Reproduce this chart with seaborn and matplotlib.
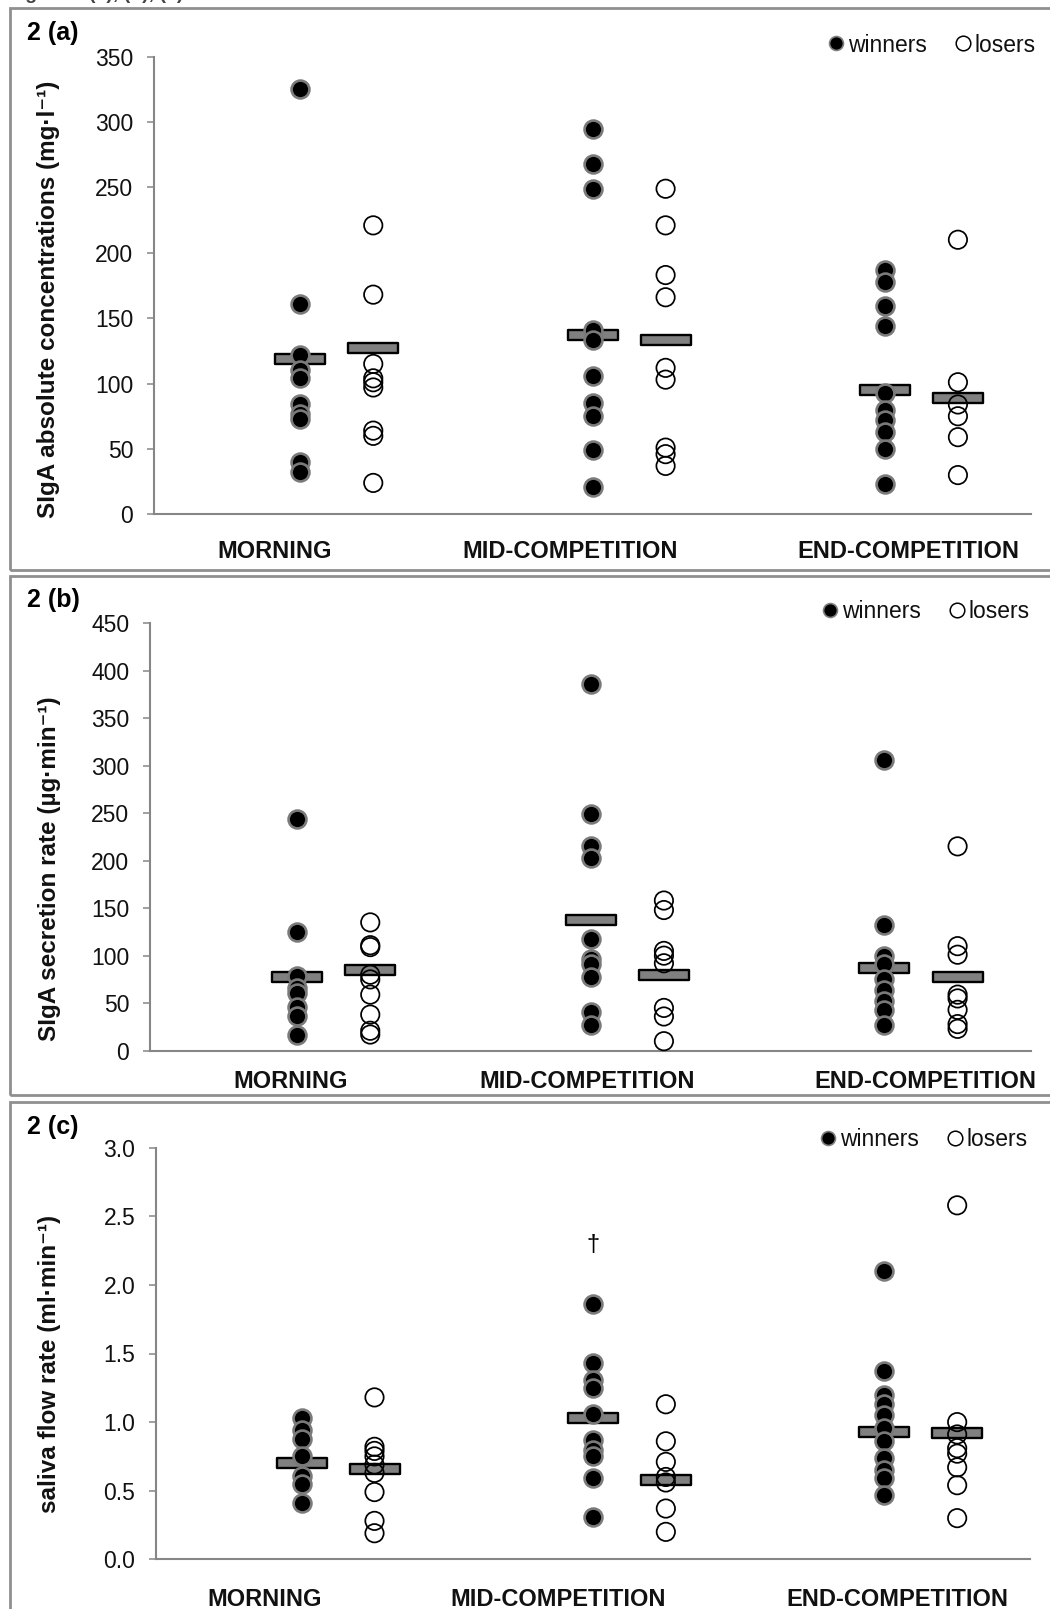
import numpy as np
import pandas as pd
import matplotlib
matplotlib.use("Agg")
import matplotlib.pyplot as plt
import seaborn as sns
from matplotlib.path import Path
from matplotlib.markers import MarkerStyle
from matplotlib.lines import Line2D
from matplotlib.patches import Rectangle

# ---------------- data ----------------
times = ["MORNING", "MID-COMPETITION", "END-COMPETITION"]
groups = ["winners", "losers"]

# (a) SIgA absolute concentrations (mg·l-1)
a_morning_winners = [325, 161, 122, 110, 104, 84, 77, 73, 40, 32]
a_morning_losers = [221, 168, 115, 104, 101, 97, 64, 60, 24]
a_mid_winners = [295, 268, 249, 141, 133, 106, 85, 75, 49, 21]
a_mid_losers = [249, 221, 183, 166, 112, 103, 51, 46, 37]
a_end_winners = [187, 178, 159, 144, 93, 80, 72, 63, 50, 23]
a_end_losers = [210, 101, 84, 75, 59, 30]
a_mean_winners = [119, 137, 95]
a_mean_losers = [127, 133, 89]

# (b) SIgA secretion rate (µg·min-1)
b_morning_winners = [244, 125, 79, 66, 61, 46, 36, 17]
b_morning_losers = [135, 111, 109, 80, 75, 59, 38, 21, 17]
b_mid_winners = [386, 249, 215, 203, 118, 96, 91, 78, 41, 27]
b_mid_losers = [158, 148, 105, 100, 92, 45, 36, 10]
b_end_winners = [306, 132, 100, 91, 75, 64, 52, 43, 27]
b_end_losers = [215, 110, 101, 59, 55, 43, 28, 23]
b_mean_winners = [78, 138, 87]
b_mean_losers = [85, 80, 78]

# (c) saliva flow rate (ml·min-1)
c_morning_winners = [1.03, 0.94, 0.88, 0.75, 0.61, 0.55, 0.41]
c_morning_losers = [1.18, 0.82, 0.79, 0.75, 0.69, 0.63, 0.49, 0.28, 0.19]
c_mid_winners = [1.86, 1.43, 1.31, 1.25, 1.06, 0.87, 0.80, 0.75, 0.59, 0.31]
c_mid_losers = [1.13, 0.86, 0.71, 0.60, 0.56, 0.37, 0.20]
c_end_winners = [2.10, 1.37, 1.20, 1.13, 1.05, 0.96, 0.86, 0.74, 0.65, 0.59, 0.47]
c_end_losers = [2.58, 1.00, 0.91, 0.81, 0.77, 0.67, 0.54, 0.30]
c_mean_winners = [0.70, 1.03, 0.93]
c_mean_losers = [0.66, 0.58, 0.92]
c_dagger_value = 2.29

ylabels = ["SIgA absolute concentrations (mg\u00b7l\u207b\u00b9)",
           "SIgA secretion rate (\u00b5g\u00b7min\u207b\u00b9)",
           "saliva flow rate (ml\u00b7min\u207b\u00b9)"]
panel_tags = ["2 (a)", "2 (b)", "2 (c)"]

# ---------------- helpers ----------------
def points_frame(mw, ml, dw, dl, ew, el):
    rows = []
    for t, (w, l) in enumerate([(mw, ml), (dw, dl), (ew, el)]):
        rows += [(t, "winners", v) for v in w]
        rows += [(t, "losers", v) for v in l]
    df = pd.DataFrame(rows, columns=["t", "group", "value"])
    df["x"] = df["t"] + 0.5 + np.where(df["group"] == "losers", 0.25, 0.0)
    return df

def means_frame(mw, ml):
    rows = [(t, "winners", v) for t, v in enumerate(mw)] + [(t, "losers", v) for t, v in enumerate(ml)]
    df = pd.DataFrame(rows, columns=["t", "group", "value"])
    df["x"] = df["t"] + 0.5 + np.where(df["group"] == "losers", 0.25, 0.0)
    return df

panels = [
    dict(pts=points_frame(a_morning_winners, a_morning_losers, a_mid_winners, a_mid_losers, a_end_winners, a_end_losers),
         means=means_frame(a_mean_winners, a_mean_losers),
         box=(154, 56.7, 1031, 514.3), ylim=350, yticks=np.arange(0, 351, 50), fmt="{:.0f}",
         lab_xy=(-0.107, 0.4705), xt=[0.414, 1.423, 2.58], xpad=18.5,
         leg=(1036, 45), tag=(27, 33), frame=(10, 8, 1070, 570)),
    dict(pts=points_frame(b_morning_winners, b_morning_losers, b_mid_winners, b_mid_losers, b_end_winners, b_end_losers),
         means=means_frame(b_mean_winners, b_mean_losers),
         box=(150, 623, 1031, 1050.7), ylim=450, yticks=np.arange(0, 451, 50), fmt="{:.0f}",
         lab_xy=(-0.101, 0.425), xt=[0.478, 1.488, 2.642], xpad=14,
         leg=(1030, 612), tag=(27, 600), frame=(10, 575.7, 1070, 1095)),
    dict(pts=points_frame(c_morning_winners, c_morning_losers, c_mid_winners, c_mid_losers, c_end_winners, c_end_losers),
         means=means_frame(c_mean_winners, c_mean_losers),
         box=(156, 1147.7, 1030, 1559.3), ylim=3.0, yticks=np.arange(0, 3.01, 0.5), fmt="{:.1f}",
         lab_xy=(-0.109, 0.4745), xt=[0.373, 1.38, 2.544], xpad=20.5,
         leg=(1028, 1140), tag=(27, 1127), frame=(10, 1101.7, 1070, 1640)),
]

# ---------------- style ----------------
sns.set_style("white")
plt.rcParams["font.family"] = ["Liberation Sans", "DejaVu Sans"]
plt.rcParams["axes.unicode_minus"] = False

W, H = 1050, 1609
fig = plt.figure(figsize=(W / 100, H / 100), dpi=100)

AX_GRAY = "#868686"
TXT = "#111111"

rect_marker = MarkerStyle(Path([(-1, -0.21), (1, -0.21), (1, 0.21), (-1, 0.21), (-1, -0.21)],
                               [Path.MOVETO, Path.LINETO, Path.LINETO, Path.LINETO, Path.CLOSEPOLY]))

# cut-off caption at the very top (as in the source page)
fig.text(8 / W, 1 + 1.5 / H, "Figure 2 (a), (b), (c)", fontsize=14, fontweight="bold",
         color="#444444", va="baseline", ha="left")

for i, p in enumerate(panels):
    l, t, r, b = p["frame"]
    fig.patches.append(Rectangle((l / W, 1 - b / H), (r - l) / W, (b - t) / H, transform=fig.transFigure,
                                 fill=False, edgecolor="#8f8f8f", linewidth=2.0, zorder=0))

    L, T, R, B = p["box"]
    ax = fig.add_axes([L / W, 1 - B / H, (R - L) / W, (B - T) / H])
    ax.set_facecolor("none")

    sns.scatterplot(data=p["means"], x="x", y="value", marker=rect_marker, s=1250,
                    color="#808080", edgecolor="black", linewidth=1.7, ax=ax, zorder=2, legend=False)
    w = p["pts"][p["pts"]["group"] == "winners"]
    lo = p["pts"][p["pts"]["group"] == "losers"]
    sns.scatterplot(data=w, x="x", y="value", color="black", edgecolor="#7a7a7a", linewidth=1.9,
                    s=165, ax=ax, zorder=3, legend=False, clip_on=False)
    sns.scatterplot(data=lo, x="x", y="value", color="black", facecolor="none", edgecolor="black",
                    linewidth=1.25, s=175, ax=ax, zorder=4, legend=False, clip_on=False)

    ax.set_xlim(0, 3)
    ax.set_ylim(0, p["ylim"])
    ax.set_yticks(p["yticks"])
    ax.set_yticklabels([p["fmt"].format(v) for v in p["yticks"]])
    ax.set_xticks(p["xt"])
    ax.set_xticklabels(times, fontweight="bold")
    ax.set_xlabel("")
    ax.set_ylabel(ylabels[i], fontsize=17.5, fontweight="bold", color=TXT)
    ax.yaxis.set_label_coords(*p["lab_xy"])

    for s in ["top", "right"]:
        ax.spines[s].set_visible(False)
    for s in ["left", "bottom"]:
        ax.spines[s].set_color(AX_GRAY)
        ax.spines[s].set_linewidth(1.5)
    ax.tick_params(axis="y", length=5, width=1.1, color=AX_GRAY, pad=10, labelsize=16.5, labelcolor=TXT,
                   left=True)
    ax.tick_params(axis="x", length=0, pad=p["xpad"], labelsize=17, labelcolor=TXT, bottom=True)

    handles = [Line2D([], [], marker="o", linestyle="", markerfacecolor="black", markeredgecolor="#808080",
                      markersize=10, markeredgewidth=1.2),
               Line2D([], [], marker="o", linestyle="", markerfacecolor="none", markeredgecolor="black",
                      markersize=10.5, markeredgewidth=1.1)]
    lx, ly = p["leg"]
    ax.legend(handles, groups, loc="center right", bbox_to_anchor=(lx / W, 1 - ly / H),
              bbox_transform=fig.transFigure, ncol=2, frameon=False, fontsize=16.5,
              handlelength=0.6, handletextpad=0.2, columnspacing=1.3, borderpad=0, borderaxespad=0,
              labelcolor=TXT)

    tx, ty = p["tag"]
    fig.text(tx / W, 1 - ty / H, panel_tags[i], fontsize=18, fontweight="bold", color="black",
             va="center", ha="left")

    if i == 2:
        ax.text(1.5, c_dagger_value, "\u2020", ha="center", va="center", fontsize=17, color="black")

fig.savefig("out.png", dpi=100)
